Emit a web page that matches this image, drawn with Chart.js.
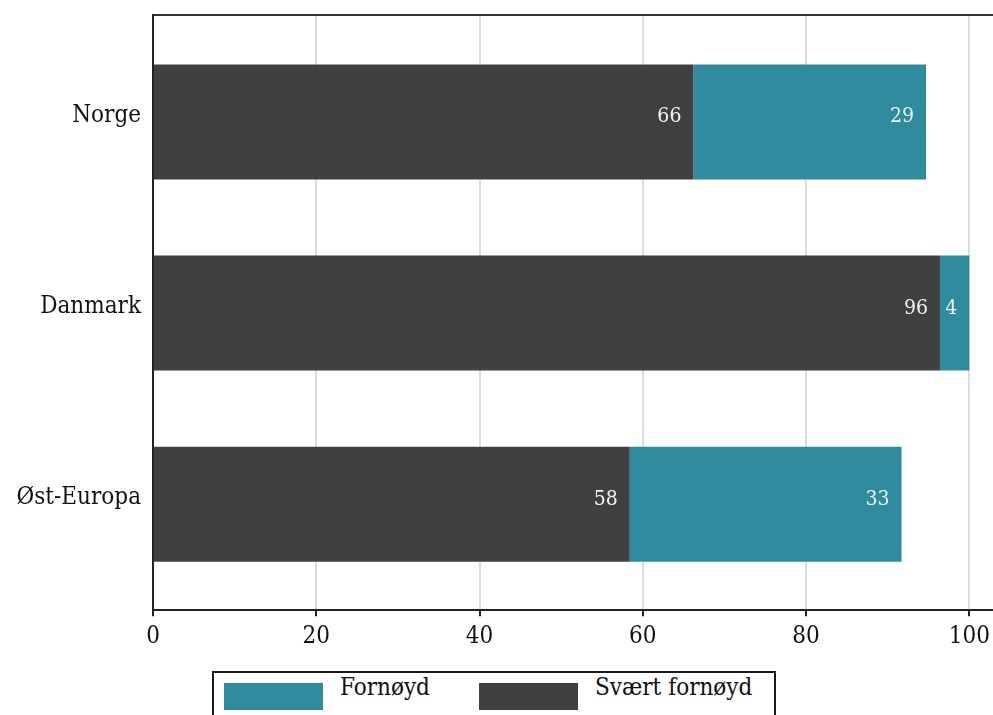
<!DOCTYPE html>
<html>
<head>
<meta charset="utf-8">
<script src="https://cdn.jsdelivr.net/npm/chart.js@4/dist/chart.umd.min.js"></script>
<style>
  body { margin: 0; overflow: hidden; background: #fff; }
  #wrap { position: relative; width: 993px; height: 715px; overflow: hidden; }
  #legend {
    position: absolute; left: 212px; top: 671px; width: 564px; height: 60px;
    box-sizing: border-box; border: 2px solid #1a1a1a; background: #fff;
    display: flex; align-items: flex-start; padding-left: 10px;
    font-family: "DejaVu Serif Condensed", "DejaVu Serif", serif; font-size: 24px; color: #111;
  }
  #legend .sw { width: 99px; height: 27px; margin-top: 10px; margin-right: 17px; flex: none; }
  #legend .tx { line-height: 28px; width: 139px; white-space: nowrap; }
</style>
</head>
<body>
<div id="wrap">
  <canvas id="canvas" width="993" height="715"></canvas>
  <div id="legend"></div>
</div>
<script>
"use strict";
// data
const categories = ['Norge', 'Danmark', 'Øst-Europa'];
const svaertFornoyd = [66.2, 96.4, 58.4];
const fornoyd = [28.5, 3.6, 33.3];
const xTicks = [0, 20, 40, 60, 80, 100];

const FONT = '"DejaVu Serif Condensed", "DejaVu Serif", serif';
Chart.defaults.font.family = FONT;
Chart.defaults.font.size = 24;
Chart.defaults.color = '#111';

// tall i hvite tall inni enden av hvert segment
const valueLabels = {
  id: 'valueLabels',
  afterDatasetsDraw(chart) {
    const ctx = chart.ctx;
    ctx.save();
    ctx.font = '21px ' + FONT;
    ctx.fillStyle = '#f2f2f2';
    ctx.textAlign = 'right';
    ctx.textBaseline = 'middle';
    chart.data.datasets.forEach((ds, di) => {
      chart.getDatasetMeta(di).data.forEach((bar, i) => {
        ctx.fillText(Math.round(ds.data[i].x), bar.x - 12, bar.y - 5);
      });
    });
    ctx.restore();
  }
};

const canvas = document.getElementById('canvas');
const ctx = canvas.getContext('2d');

let myChart = new Chart(ctx, {
  type: 'bar',
  data: {
    datasets: [{
      label: 'Svært fornøyd',
      data: categories.map((c, i) => ({ x: svaertFornoyd[i], y: i })),
      backgroundColor: '#404040',
      barPercentage: 0.602,
      categoryPercentage: 1
    }, {
      label: 'Fornøyd',
      data: categories.map((c, i) => ({ x: fornoyd[i], y: i })),
      backgroundColor: '#2e8c9e',
      barPercentage: 0.602,
      categoryPercentage: 1
    }]
  },
  options: {
    indexAxis: 'y',
    responsive: false,
    animation: false,
    layout: { padding: { top: 15, right: 0, bottom: 58, left: 0 } },
    plugins: {
      legend: { display: false },
      tooltip: { enabled: false }
    },
    scales: {
      x: {
        type: 'linear',
        stacked: true,
        min: 0,
        max: 102.9,
        afterBuildTicks: (s) => { s.ticks = xTicks.map(v => ({ value: v })); },
        afterFit: (s) => { s.paddingRight = 0; s.paddingLeft = 0; },
        grid: { color: '#dcdcdc', lineWidth: 2, tickColor: '#222', tickLength: 6, tickWidth: 2 },
        border: { color: '#222', width: 2 },
        ticks: { padding: 6 }
      },
      x2: {
        type: 'linear',
        position: 'top',
        min: 0,
        max: 102.9,
        afterFit: (s) => { s.paddingRight = 0; s.paddingLeft = 0; },
        grid: { display: false, drawTicks: false },
        border: { display: true, color: '#333', width: 2 },
        ticks: { display: false }
      },
      y: {
        type: 'linear',
        stacked: true,
        reverse: true,
        offset: false,
        min: -0.56,
        max: 2.555,
        afterBuildTicks: (s) => { s.ticks = categories.map((c, i) => ({ value: i })); },
        afterFit: (s) => { s.width = 153; s.paddingTop = 0; s.paddingBottom = 0; },
        grid: { display: false, drawTicks: false, offset: false },
        border: { color: '#222', width: 2 },
        ticks: { padding: 12, labelOffset: -6, callback: (v) => categories[v] }
      }
    }
  },
  plugins: [valueLabels]
});

// legende med ramme under figuren
const legendEl = document.getElementById('legend');
myChart.data.datasets.slice().reverse().forEach(ds => {
  const sw = document.createElement('span');
  sw.className = 'sw';
  sw.style.background = ds.backgroundColor;
  const tx = document.createElement('span');
  tx.className = 'tx';
  tx.textContent = ds.label;
  legendEl.appendChild(sw);
  legendEl.appendChild(tx);
});
</script>
</body>
</html>
